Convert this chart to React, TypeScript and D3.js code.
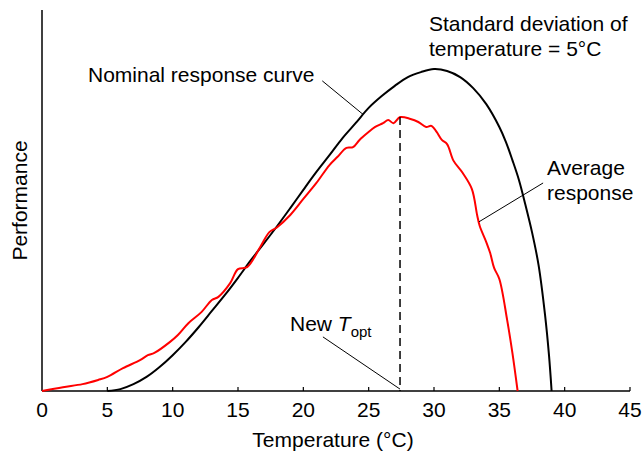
import * as d3 from "d3";

// nominal response curve (temperature, performance)
const nominalTemp = [5, 6, 7, 8, 9, 10, 11, 12, 13, 14, 15, 16, 17, 18, 19, 20, 21, 22, 23, 24, 25, 26, 27, 28, 29, 30, 31, 32, 33, 34, 35, 35.5, 36, 36.5, 37, 37.5, 38, 38.5, 38.8, 39];
const nominalPerf = [0, 0.5, 1.8, 3.7, 6.3, 9.4, 12.9, 16.8, 21.0, 25.2, 29.7, 34.4, 38.8, 43.3, 48.0, 52.8, 57.5, 61.9, 66.4, 70.3, 74.3, 77.4, 80.1, 82.4, 83.7, 84.5, 84.0, 82.4, 79.5, 75.3, 69.3, 65.4, 60.6, 55.4, 48.8, 41.7, 33.1, 19.9, 9.4, 0];

// average response with temperature variability (sd = 5°C)
const averageTemp = [0, 1.6, 3.1, 4.3, 5.0, 6.2, 7.5, 8.1, 8.6, 9.8, 10.4, 11.2, 12.2, 13.0, 13.5, 14.4, 15.0, 15.7, 16.7, 17.4, 18, 19, 20, 21, 22, 22.6, 23.3, 23.8, 24.3, 24.9, 25.5, 26.1, 26.5, 26.9, 27.4, 28.2, 28.8, 29.4, 29.8, 30.2, 30.6, 31.0, 31.5, 32.2, 32.9, 33.3, 33.5, 34.0, 34.3, 34.6, 35.0, 35.6, 36.0, 36.4];
const averagePerf = [0, 1.0, 1.8, 2.9, 3.7, 6.0, 8.1, 9.4, 10.0, 12.9, 14.7, 17.8, 20.7, 23.9, 24.7, 28.3, 32.0, 32.5, 37.8, 41.7, 43.0, 46.2, 50.4, 54.6, 59.3, 61.4, 63.8, 64.0, 65.9, 67.7, 69.3, 70.3, 71.1, 70.3, 71.9, 71.4, 70.6, 69.3, 69.6, 68.0, 65.9, 64.8, 60.4, 57.2, 53.0, 46.2, 43.3, 39.1, 36.2, 32.3, 29.4, 18.6, 10.0, 0];

const xTicks = [0, 5, 10, 15, 20, 25, 30, 35, 40, 45];
const newTopt = 27.4;
const toptPerf = 71.9;

const width = 642,
  height = 453;
const margin = { top: 10, right: 12, bottom: 62, left: 42 };
const font = "'Liberation Sans', Arial, Helvetica, sans-serif";

export default function App() {
  const x = d3
    .scaleLinear()
    .domain([0, 45])
    .range([margin.left, width - margin.right]);
  const y = d3
    .scaleLinear()
    .domain([0, 100])
    .range([height - margin.bottom, margin.top]);

  const line = d3
    .line<[number, number]>()
    .x((d) => x(d[0]))
    .y((d) => y(d[1]))
    .curve(d3.curveCatmullRom);

  const nominal = nominalTemp.map((t, i) => [t, nominalPerf[i]] as [number, number]);
  const average = averageTemp.map((t, i) => [t, averagePerf[i]] as [number, number]);
  const y0 = y(0);

  return (
    <svg
      width={width}
      height={height}
      style={{ position: "absolute", left: 0, top: 0 }}
      fontFamily={font}
    >
      <rect width={width} height={height} fill="#fff" />

      {/* axes */}
      <line x1={x(0)} x2={x(0)} y1={y(0)} y2={y(100)} stroke="#000" strokeWidth={1.5} />
      <line x1={x(0)} x2={x(45)} y1={y0} y2={y0} stroke="#000" strokeWidth={1.5} />
      {xTicks.map((t) => (
        <g key={t}>
          {t > 0 && <line x1={x(t)} x2={x(t)} y1={y0} y2={y0 - 4} stroke="#000" strokeWidth={1.2} />}
          <text x={x(t)} y={y0 + 26} fontSize={21} textAnchor="middle">
            {t}
          </text>
        </g>
      ))}
      <text x={x(22.5) - 3} y={447} fontSize={21} textAnchor="middle">
        Temperature (°C)
      </text>
      <text
        transform={`translate(27, ${(y(0) + y(100)) / 2}) rotate(-90)`}
        fontSize={21}
        textAnchor="middle"
      >
        Performance
      </text>

      {/* curves */}
      <path d={line(nominal) ?? ""} fill="none" stroke="#000" strokeWidth={2} />
      <path d={line(average) ?? ""} fill="none" stroke="#ff0000" strokeWidth={2} />
      <line
        x1={x(newTopt)}
        x2={x(newTopt)}
        y1={y(toptPerf)}
        y2={y0}
        stroke="#000"
        strokeWidth={1.5}
        strokeDasharray="8,5"
      />

      {/* annotations */}
      <text x={88} y={82} fontSize={21}>
        Nominal response curve
      </text>
      <line x1={x(21.45)} y1={y(81.4)} x2={x(24.57)} y2={y(72.6)} stroke="#000" strokeWidth={1} />

      <text x={429} y={31} fontSize={21}>
        Standard deviation of
      </text>
      <text x={429} y={56} fontSize={21}>
        temperature = 5°C
      </text>

      <text x={547} y={175} fontSize={21}>
        Average
      </text>
      <text x={547} y={200} fontSize={21}>
        response
      </text>
      <line x1={x(38.35)} y1={y(54.6)} x2={x(33.44)} y2={y(44.4)} stroke="#000" strokeWidth={1} />

      <text x={290} y={331} fontSize={21}>
        New{" "}
        <tspan fontStyle="italic">T</tspan>
        <tspan fontSize={15} dy={6}>
          opt
        </tspan>
      </text>
      <line x1={x(21.5)} y1={y(14.2)} x2={x(newTopt)} y2={y(0.5)} stroke="#000" strokeWidth={1} />
    </svg>
  );
}
